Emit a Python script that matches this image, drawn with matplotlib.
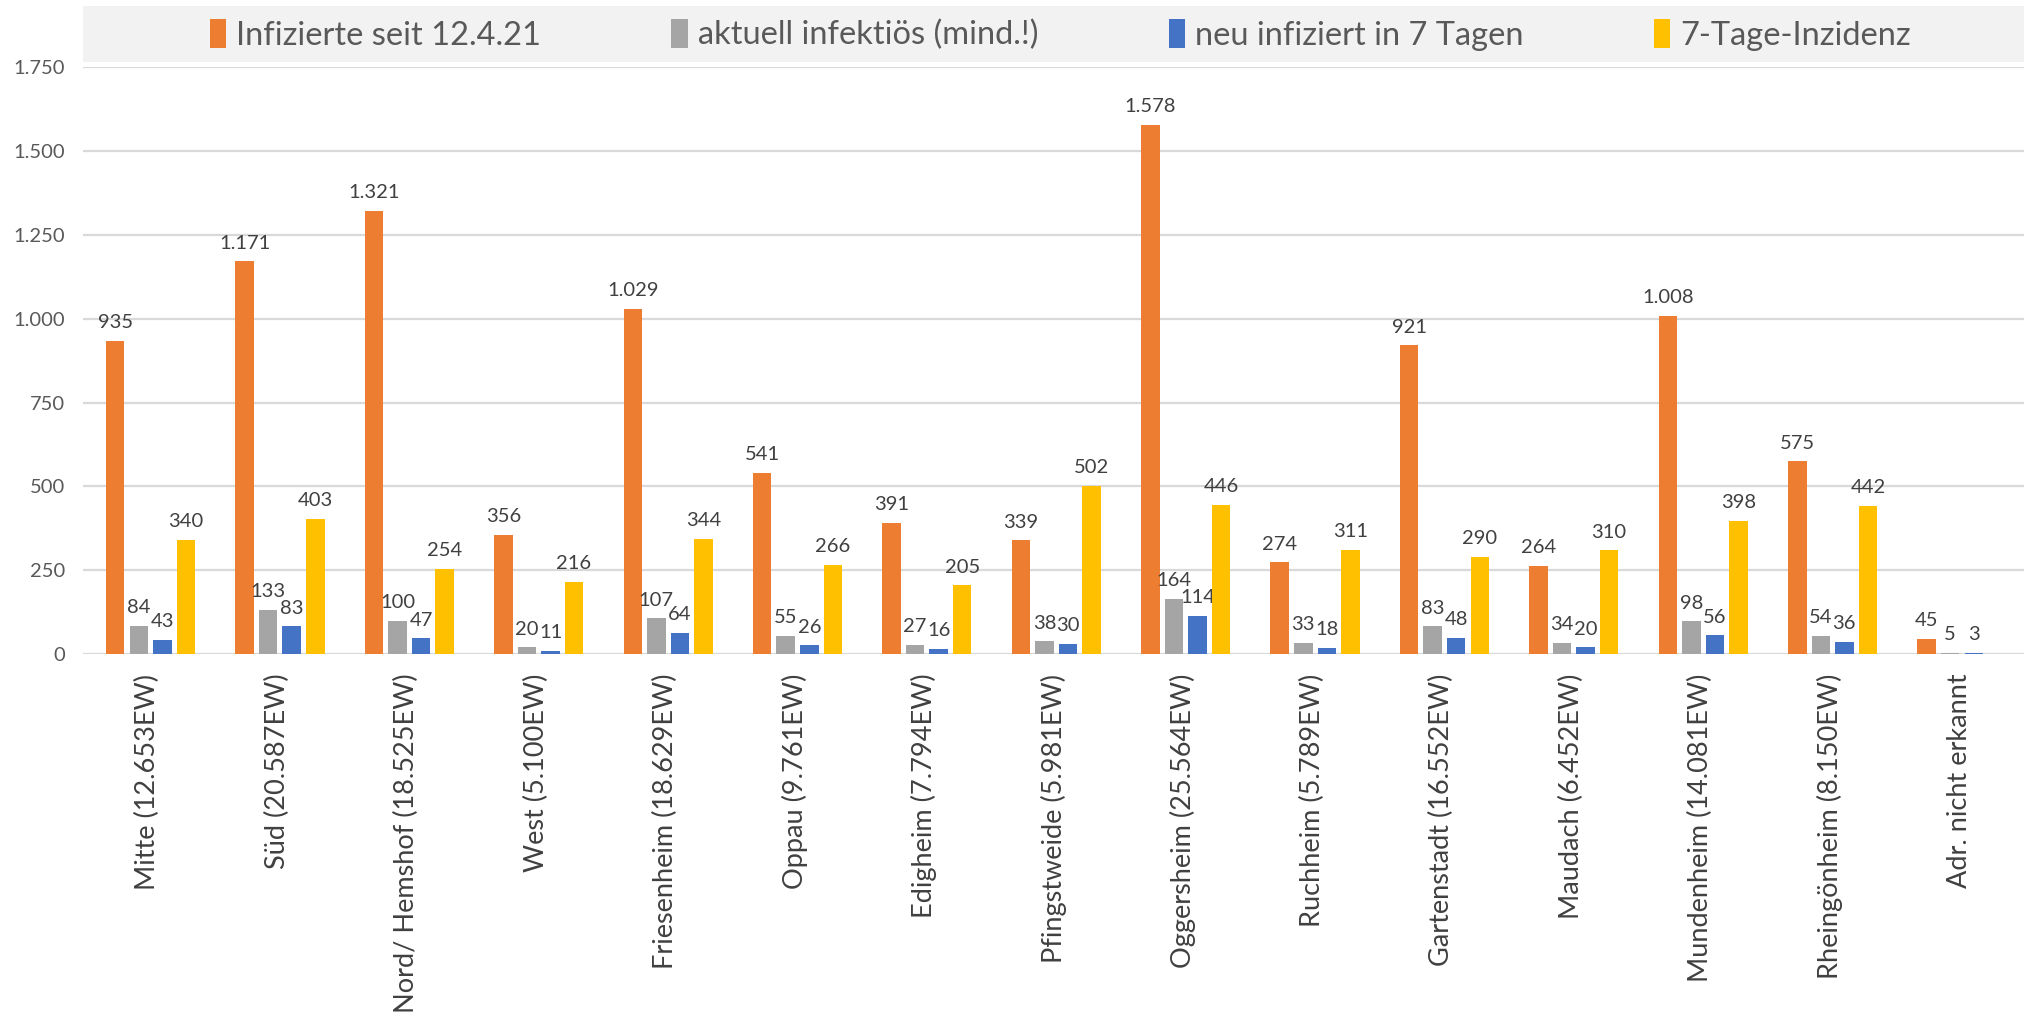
import numpy as np
import matplotlib.pyplot as plt
from matplotlib.patches import Rectangle

categories = ["Mitte (12.653EW)", "Süd (20.587EW)", "Nord/ Hemshof (18.525EW)",
              "West (5.100EW)", "Friesenheim (18.629EW)", "Oppau (9.761EW)",
              "Edigheim (7.794EW)", "Pfingstweide (5.981EW)", "Oggersheim (25.564EW)",
              "Ruchheim (5.789EW)", "Gartenstadt (16.552EW)", "Maudach (6.452EW)",
              "Mundenheim (14.081EW)", "Rheingönheim (8.150EW)", "Adr. nicht erkannt"]
infizierte = [935, 1171, 1321, 356, 1029, 541, 391, 339, 1578, 274, 921, 264, 1008, 575, 45]
aktuell = [84, 133, 100, 20, 107, 55, 27, 38, 164, 33, 83, 34, 98, 54, 5]
neu7 = [43, 83, 47, 11, 64, 26, 16, 30, 114, 18, 48, 20, 56, 36, 3]
inzidenz = [340, 403, 254, 216, 344, 266, 205, 502, 446, 311, 290, 310, 398, 442, np.nan]

series = [("Infizierte seit 12.4.21", infizierte, "#ED7D31"),
          ("aktuell infektiös (mind.!)", aktuell, "#A5A5A5"),
          ("neu infiziert in 7 Tagen", neu7, "#4472C4"),
          ("7-Tage-Inzidenz", inzidenz, "#FFC000")]

plt.rcParams['font.family'] = ['Lato', 'DejaVu Sans']

fig = plt.figure(figsize=(20.31, 10.19), dpi=100)
ax = fig.add_axes([0.041, 0.358, 0.9556, 0.576])

x = np.arange(len(categories))
step = 0.182
width = 0.143

def fmt(v):
    return f"{int(v):,}".replace(",", ".")

for i, (name, vals, col) in enumerate(series):
    pos = x + (i - 1.5) * step + 0.02
    v = np.array(vals, dtype=float)
    ax.bar(pos, v, width=width, color=col, label=name, zorder=3)
    for px, pv in zip(pos, v):
        if np.isnan(pv):
            continue
        ax.annotate(fmt(pv), (px, pv), xytext=(0, 7), textcoords="offset points",
                    ha="center", va="bottom", fontsize=14.5, color="#404040")

ax.set_xlim(-0.5, len(categories) - 0.5)
ax.set_ylim(0, 1750)
ax.set_yticks(np.arange(0, 1751, 250))
ax.set_yticklabels([fmt(t) for t in np.arange(0, 1751, 250)], fontsize=14.5, color="#595959")
ax.set_xticks(x)
ax.set_xticklabels(categories, rotation=90, fontsize=19.5, color="#404040")
ax.tick_params(axis="both", length=0)
ax.tick_params(axis="y", pad=13)
ax.tick_params(axis="x", pad=14)
ax.grid(axis="y", color="#D9D9D9", linewidth=1.6, zorder=0)
for s in ax.spines.values():
    s.set_visible(False)
ax.axhline(0, color="#D9D9D9", linewidth=1.8, zorder=2)

# legend box on top
fig.patches.append(Rectangle((0.041, 0.939), 0.9556, 0.055, transform=fig.transFigure,
                             facecolor="#F2F2F2", edgecolor="none", zorder=0))
leg = fig.legend(loc="center", bbox_to_anchor=(0.522, 0.966), ncol=4, frameon=False,
                 fontsize=23.5, handlelength=0.5, handleheight=1.0, handletextpad=0.3,
                 columnspacing=4.0, labelcolor="#595959")

fig.savefig("out.png", dpi=100)
